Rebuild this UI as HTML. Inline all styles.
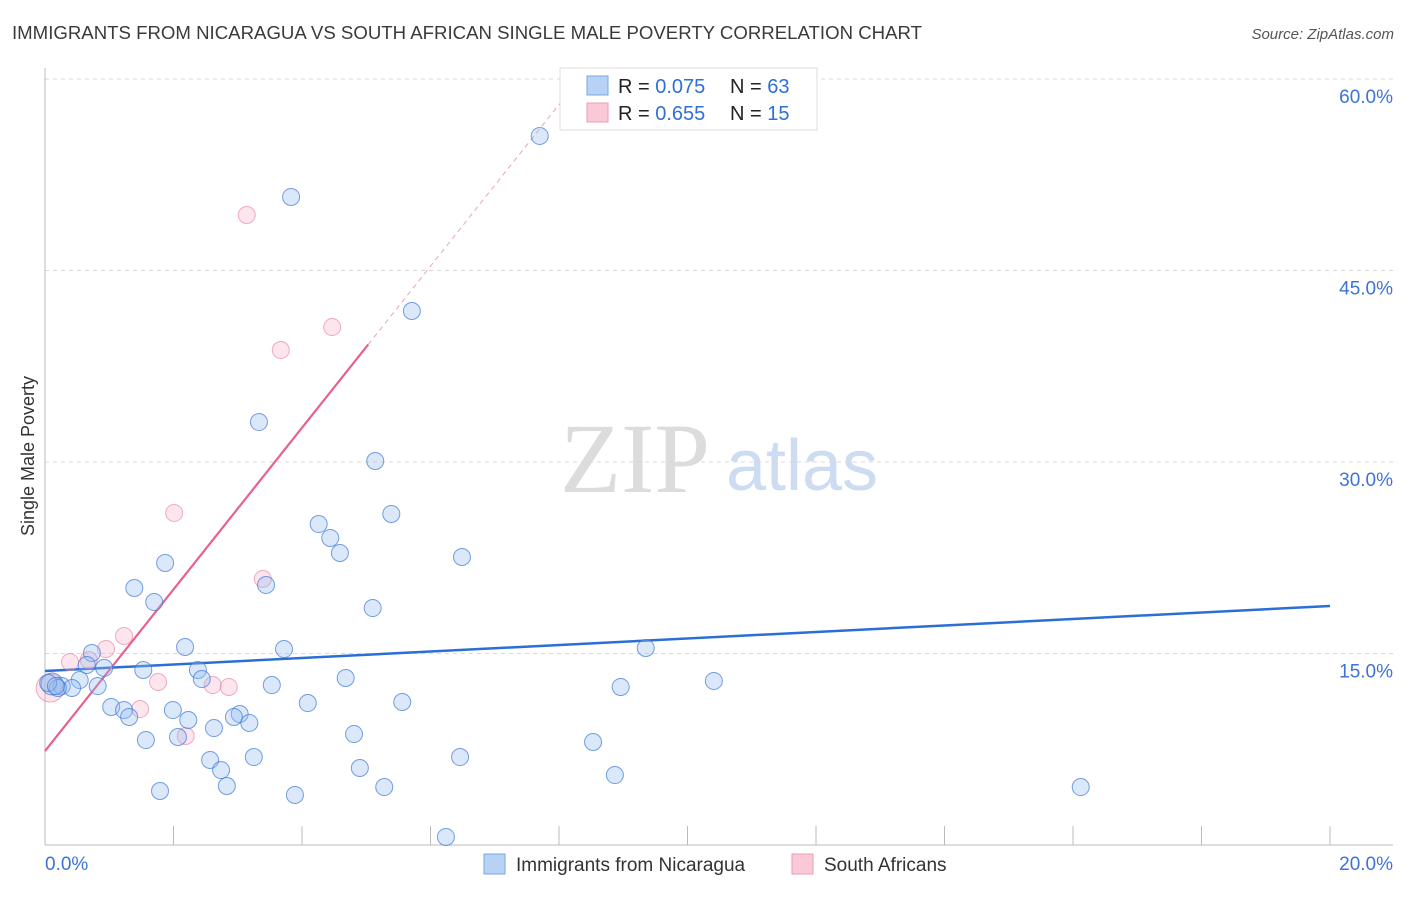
<!DOCTYPE html>
<html><head><meta charset="utf-8"><style>
body{margin:0;background:#fff;font-family:"Liberation Sans",sans-serif;}
</style></head><body>
<svg id="chart" width="1406" height="892" xmlns="http://www.w3.org/2000/svg" font-family="Liberation Sans, sans-serif">
<text x="12" y="39" font-size="18" fill="#3a3a3a" textLength="910" lengthAdjust="spacingAndGlyphs">IMMIGRANTS FROM NICARAGUA VS SOUTH AFRICAN SINGLE MALE POVERTY CORRELATION CHART</text>
<text x="1394" y="39" font-size="15" fill="#555" text-anchor="end" font-style="italic">Source: ZipAtlas.com</text>
<text transform="translate(34,456) rotate(-90)" font-size="18" fill="#333" text-anchor="middle">Single Male Poverty</text>
<g>
<text x="635" y="492" font-size="100" fill="#dcdcdc" style="font-family:'Liberation Serif',serif" text-anchor="middle">ZIP</text>
<text x="802" y="490" font-size="72" fill="#cddcf1" text-anchor="middle">atlas</text>
</g>
<g id="grid"></g><g id="axes"></g><g id="lines"></g><g id="pts"></g>
<g>
<rect x="560" y="68" width="257" height="62" fill="#fff" stroke="#ddd"/>
<rect x="587" y="76" width="21" height="19" fill="#b8d2f5" stroke="#7aa6e6"/>
<rect x="587" y="103" width="21" height="19" fill="#f9c9d7" stroke="#ee9ab2"/>
<text x="618" y="93" font-size="20" fill="#222">R = <tspan fill="#2f6fd6">0.075</tspan><tspan x="730">N = </tspan><tspan fill="#2f6fd6">63</tspan></text>
<text x="618" y="120" font-size="20" fill="#222">R = <tspan fill="#2f6fd6">0.655</tspan><tspan x="730">N = </tspan><tspan fill="#2f6fd6"> 15</tspan></text>
</g>
<g>
<rect x="484" y="854" width="21" height="20" fill="#b8d2f5" stroke="#7aa6e6"/>
<text x="516" y="871" font-size="19" fill="#333">Immigrants from Nicaragua</text>
<rect x="792" y="854" width="21" height="20" fill="#f9c9d7" stroke="#ee9ab2"/>
<text x="824" y="871" font-size="19" fill="#333">South Africans</text>
</g>
</svg>
<script>
const xTicks=[0,20];
const yTicks=[15,30,45,60];
const blueX=[7.70,3.83,5.71,3.33,5.14,5.39,4.26,4.44,4.59,6.49,1.87,1.39,3.44,1.70,5.10,9.35,2.18,3.72,0.73,0.65,0.92,1.53,2.38,0.54,4.68,2.44,3.53,10.41,8.96,0.11,0.26,0.42,0.82,0.20,4.09,5.56,1.03,1.23,1.31,1.99,2.23,3.03,2.94,3.18,2.63,4.81,1.57,2.07,8.53,2.57,3.25,6.46,2.74,4.90,8.87,2.83,5.28,1.79,3.89,16.12,6.24,0.05,0.17];
const blueY=[55.54,50.76,41.83,33.13,30.08,25.93,25.14,24.05,22.87,22.56,22.09,20.13,20.37,19.03,18.56,15.43,15.51,15.35,15.04,14.10,13.87,13.71,13.71,12.92,13.08,13.00,12.53,12.85,12.38,12.61,12.45,12.30,12.45,12.30,11.12,11.20,10.81,10.57,10.03,10.57,9.79,10.26,10.03,9.56,9.16,8.69,8.22,8.46,8.07,6.66,6.89,6.89,5.87,6.03,5.48,4.62,4.54,4.23,3.92,4.54,0.63,12.69,12.45];
const pinkX=[3.14,4.47,3.67,2.01,3.39,1.23,0.95,0.39,0.68,1.76,2.61,2.86,1.48,2.19,0.08];
const pinkY=[49.35,40.57,38.77,26.01,20.84,16.37,15.35,14.33,14.49,12.77,12.53,12.38,10.65,8.54,12.30];
const blueFit=[13.63,18.72];
const pinkFit=[7.36,6.33];
const X0=45,X1=1330,Y0=845,YT=79;
const sx=v=>X0+(v/20)*(X1-X0);
const sy=v=>Y0-(v/60)*(Y0-YT);
const NS='http://www.w3.org/2000/svg';
function mk(p,t,a){const e=document.createElementNS(NS,t);for(const k in a)e.setAttribute(k,a[k]);p.appendChild(e);return e;}
const grid=document.getElementById('grid'),axes=document.getElementById('axes');
yTicks.forEach(t=>{
const l=mk(grid,'line',{x1:X0,x2:1393,y1:sy(t),y2:sy(t),stroke:'#d8d8d8','stroke-dasharray':'4,4'});


const tx=mk(grid,'text',{x:1393,y:sy(t)+24,'font-size':19,fill:'#3d74d4','text-anchor':'end'});
tx.textContent=t.toFixed(1)+'%';


});
mk(axes,'line',{x1:X0,x2:X0,y1:68,y2:Y0,stroke:'#bbb'});
mk(axes,'line',{x1:X0,x2:1393,y1:Y0,y2:Y0,stroke:'#bbb'});
for(let i=1;i<=10;i++){const x=sx(i*2);const t=mk(axes,'line',{x1:x,x2:x,y1:826,y2:Y0,stroke:'#bbb'});

}
xTicks.forEach((t,i)=>{const tx=mk(axes,'text',{x:i?1393:45,y:870,'font-size':19,fill:'#3d74d4','text-anchor':i?'end':'start'});
tx.textContent=t.toFixed(1)+'%';

});
const lines=document.getElementById('lines');
const bl=mk(lines,'line',{x1:sx(0),y1:sy(blueFit[0]),x2:sx(20),y2:sy(blueFit[1]),stroke:'#2b6fd6','stroke-width':2.5});


const pe=5.03;
const pl=mk(lines,'line',{x1:sx(0),y1:sy(pinkFit[0]),x2:sx(pe),y2:sy(pinkFit[0]+pinkFit[1]*pe),stroke:'#e8618c','stroke-width':2.2});


const pd=mk(lines,'line',{x1:sx(pe),y1:sy(pinkFit[0]+pinkFit[1]*pe),x2:sx(8.1),y2:sy(pinkFit[0]+pinkFit[1]*8.1),stroke:'#e8a5ba','stroke-width':1,'stroke-dasharray':'5,4'});


const pts=document.getElementById('pts');
pinkX.forEach((v,i)=>{const c=mk(pts,'circle',{cx:sx(v),cy:sy(pinkY[i]),r:i==14?14:8.5,fill:'rgba(245,170,195,0.3)',stroke:'rgba(232,130,160,0.65)','stroke-width':1});

});
blueX.forEach((v,i)=>{const c=mk(pts,'circle',{cx:sx(v),cy:sy(blueY[i]),r:i==29?11:8.5,fill:'rgba(150,190,240,0.35)',stroke:'rgba(60,120,215,0.7)','stroke-width':1});

});
</script>
</body></html>
